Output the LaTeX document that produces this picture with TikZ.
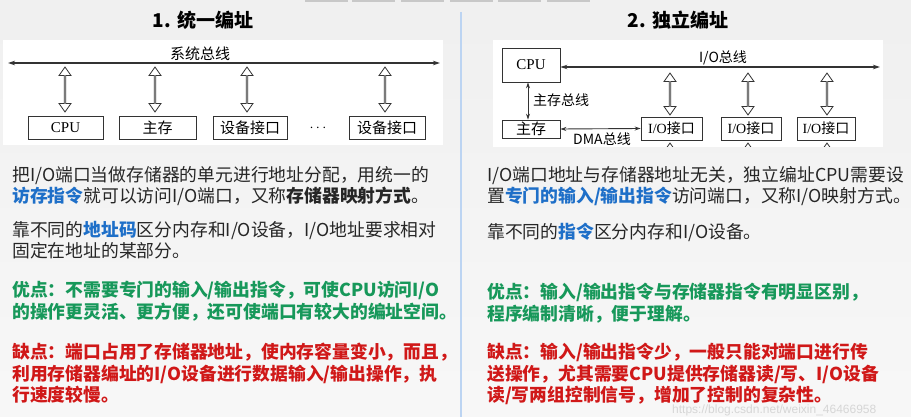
\documentclass[tikz,border=0pt]{standalone}
\usepackage{fontspec}
\setmainfont{Liberation Serif}
\newfontfamily\cjk{Noto Sans CJK SC}
\newfontfamily\marksans{Liberation Sans}
\usetikzlibrary{shapes.arrows, arrows.meta, positioning}
\definecolor{linkblue}{HTML}{1E6FC8}
\definecolor{okgreen}{HTML}{17985A}
\definecolor{badred}{HTML}{D01818}
\definecolor{divider}{HTML}{BCD4F2}
\definecolor{tabgray}{HTML}{C8C8C8}

\begin{document}
\begin{tikzpicture}[
    x=1pt, y=-1pt,
    title/.style={font=\cjk\bfseries\fontsize{19}{22}\selectfont},
    unitbox/.style={draw=black!80, line width=0.8pt, fill=white, inner sep=0pt, minimum height=23pt, font=\fontsize{15}{17}\selectfont},
    iobox/.style={unitbox, font=\fontsize{14}{16}\selectfont},
    bus/.style={draw=black!80, line width=1.1pt, {Stealth[length=7pt,width=4.5pt]}-{Stealth[length=7pt,width=4.5pt]}},
    thinbus/.style={draw=black!80, line width=0.9pt, {Stealth[length=6pt,width=4pt]}-{Stealth[length=6pt,width=4pt]}},
    fatarrow/.style={double arrow, draw=black!80, fill=white, line width=0.8pt, inner sep=0pt, rotate=90,
        minimum width=12pt, double arrow head extend=3.2pt, double arrow tip angle=70},
    buslabel/.style={font=\cjk\fontsize{14}{16}\selectfont, inner sep=0pt},
    body/.style={anchor=north west, inner sep=0pt, align=left, text=black!85, font=\cjk\fontsize{17.8}{21.5}\selectfont},
    good/.style={body, text=okgreen, font=\cjk\bfseries\fontsize{17.8}{21.5}\selectfont},
    bad/.style={body, text=badred, font=\cjk\bfseries\fontsize{17.8}{21.5}\selectfont}
]
% page background, tabs and divider
\shade[top color=black!6, bottom color=black!3] (0,0) rectangle (911,417);
\useasboundingbox (0,0) rectangle (911,417);
\foreach \tx in {305,352,401,450,498,547}
    \fill[tabgray] (\tx,0) rectangle ++(43,2.5);
\draw[divider, line width=2pt] (461,12) -- (461,417);

% 1. unified addressing
\node[title] (titleA) at (203,20) {1. 统一编址};
\fill[white] (3,40) rectangle (443,145);
\coordinate (busAL) at (8,63);
\coordinate (busAR) at (440,63);
\draw[bus] (busAL) -- (busAR);
\node[buslabel, font=\cjk\fontsize{15}{17}\selectfont] (busAlab) at (200,54) {系统总线};
\node[unitbox, minimum width=75pt] (cpuA) at (65.5,128) {CPU};
\node[unitbox, minimum width=77pt] (memA) at (157.5,128) {\cjk 主存};
\node[unitbox, minimum width=74pt] (devA1) at (250,128) {\cjk 设备接口};
\node[unitbox, minimum width=76pt] (devA2) at (387,128) {\cjk 设备接口};
\node[font=\fontsize{15}{17}\selectfont] (dotsA) at (318,128) {$\cdots$};
\foreach \ax/\an in {65/1,155/2,247/3,385/4}
    \node[fatarrow, minimum height=45pt] (upA\an) at (\ax,89.5) {};

% 2. separate addressing
\node[title] (titleB) at (678,20) {2. 独立编址};
\fill[white] (493,40) rectangle (883,147);
\node[unitbox, minimum width=58pt, minimum height=34pt, font=\fontsize{15}{17}\selectfont] (cpuB) at (531,65) {CPU};
\node[iobox, minimum width=58pt, minimum height=18pt, font=\cjk\fontsize{15}{17}\selectfont] (memB) at (531,129) {主存};
\node[iobox, minimum width=61pt] (ioB1) at (671.5,128.5) {I/O\cjk 接口};
\node[iobox, minimum width=60pt] (ioB2) at (751,128.5) {I/O\cjk 接口};
\node[iobox, minimum width=58pt] (ioB3) at (826,128.5) {I/O\cjk 接口};
\coordinate (busBR) at (880,67);
\draw[bus] (cpuB.east |- busBR) -- (busBR);
\node[buslabel] (busBlab) at (723,58) {I/O总线};
\draw[thinbus] ([xshift=-3pt]cpuB.south) -- ([xshift=-3pt]memB.north);
\node[buslabel, anchor=west] (memBlab) at (533,100) {主存总线};
\draw[thinbus] (memB.east) -- (ioB1.west);
\node[buslabel] (dmaBlab) at (602,139) {DMA总线};
\foreach \bx/\bn in {670/1,748/2,827/3}
    \node[fatarrow, minimum height=42pt] (upB\bn) at (\bx,94) {};
\begin{scope}
    \clip (493,140) rectangle (883,147);
    \foreach \bx/\bn in {670/1,748/2,827/3}
        \node[fatarrow, minimum height=42pt] (dnB\bn) at (\bx,164) {};
\end{scope}

% left texts
\node[body] (defA) at (12,166) {把I/O端口当做存储器的单元进行地址分配，用统一的\\{\bfseries\color{linkblue}访存指令}就可以访问I/O端口，又称{\bfseries 存储器映射方式}。};
\node[body] (howA) at (12,221) {靠不同的{\bfseries\color{linkblue}地址码}区分内存和I/O设备，I/O地址要求相对\\固定在地址的某部分。};
\node[good] (proA) at (12,281) {优点：不需要专门的输入/输出指令，可使CPU访问I/O\\的操作更灵活、更方便，还可使端口有较大的编址空间。};
\node[bad] (conA) at (12,343) {缺点：端口占用了存储器地址，使内存容量变小，而且，\\利用存储器编址的I/O设备进行数据输入/输出操作，执\\行速度较慢。};

% right texts
\node[body] (defB) at (487,166) {I/O端口地址与存储器地址无关，独立编址CPU需要设\\置{\bfseries\color{linkblue}专门的输入/输出指令}访问端口，又称I/O映射方式。};
\node[body] (howB) at (487,223) {靠不同的{\bfseries\color{linkblue}指令}区分内存和I/O设备。};
\node[good] (proB) at (487,283) {优点：输入/输出指令与存储器指令有明显区别，\\程序编制清晰，便于理解。};
\node[bad] (conB) at (487,343) {缺点：输入/输出指令少，一般只能对端口进行传\\送操作，尤其需要CPU提供存储器读/写、I/O设备\\读/写两组控制信号，增加了控制的复杂性。};
\node[anchor=west, text=black!16, font=\marksans\fontsize{12}{14}\selectfont, inner sep=0pt] (mark) at (672,410.5) {https://blog.csdn.net/weixin\_46466958};
\end{tikzpicture}
\end{document}
